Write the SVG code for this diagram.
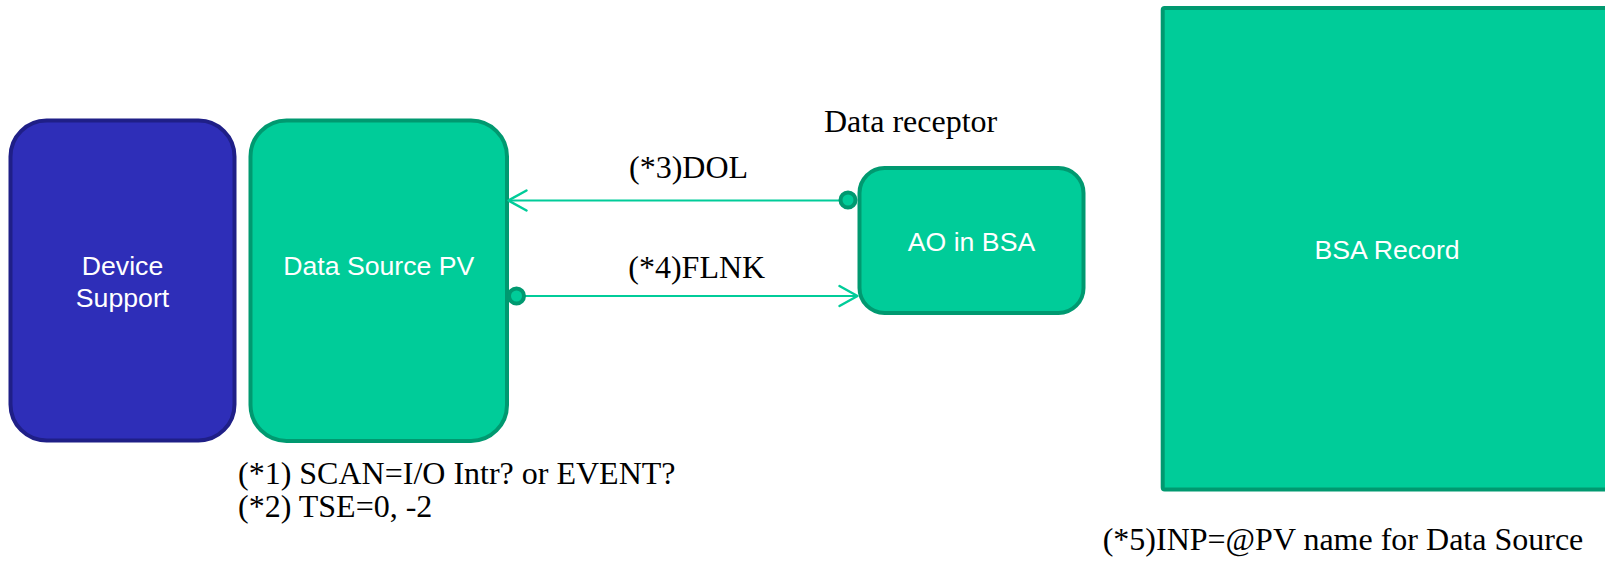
<svg xmlns="http://www.w3.org/2000/svg" width="1605" height="566" viewBox="0 0 1605 566">
  <style>
    .blue { fill: #2E2EB8; stroke: #1F1F87; stroke-width: 4; }
    .green { fill: #00CC99; stroke: #009970; stroke-width: 4; }
    .label { font-family: "Liberation Sans", Arial, sans-serif; font-size: 26.67px; fill: #FFFFFF; text-anchor: middle; }
    .note { font-family: "Liberation Serif", "Times New Roman", serif; font-size: 32px; fill: #000000; }
    .link { stroke: #00CC99; stroke-width: 2; fill: none; }
    .port { fill: #00CC99; stroke: #009970; stroke-width: 4; }
  </style>
  <defs>
    <marker id="open-arrow" markerUnits="userSpaceOnUse" markerWidth="24" markerHeight="26" refX="20" refY="12" orient="auto" overflow="visible">
      <path d="M2,2 L20,12 L2,22" fill="none" stroke="#00CC99" stroke-width="2.5" stroke-linecap="round" stroke-linejoin="round"/>
    </marker>
  </defs>

  <rect width="1605" height="566" fill="#FFFFFF"/>

  <!-- record blocks -->
  <g id="device-support">
    <rect class="blue" x="10.5" y="120.5" width="224" height="320" rx="36" ry="36"/>
    <text class="label" x="122.5" y="275">Device</text>
    <text class="label" x="122.5" y="307">Support</text>
  </g>

  <g id="data-source-pv">
    <rect class="green" x="250.5" y="120.5" width="256.5" height="320.5" rx="36" ry="36"/>
    <text class="label" x="378.75" y="275">Data Source PV</text>
  </g>

  <g id="ao-in-bsa">
    <rect class="green" x="859.5" y="168" width="224" height="145" rx="25" ry="25"/>
    <text class="label" x="971.5" y="250.5">AO in BSA</text>
  </g>

  <g id="bsa-record">
    <rect class="green" x="1162.7" y="8" width="448" height="481.5" rx="2" ry="2"/>
    <text class="label" x="1387" y="259.3">BSA Record</text>
  </g>

  <!-- links between records -->
  <g id="connectors">
    <g id="dol-link">
      <line class="link" x1="848" y1="200.5" x2="508.5" y2="200.5" marker-end="url(#open-arrow)"/>
      <circle class="port" cx="848" cy="200" r="7.5"/>
    </g>
    <g id="flnk-link">
      <line class="link" x1="517" y1="296" x2="857.5" y2="296" marker-end="url(#open-arrow)"/>
      <circle class="port" cx="516.5" cy="296" r="7.5"/>
    </g>
  </g>

  <!-- annotations -->
  <g id="notes">
    <text class="note" x="824" y="132.3">Data receptor</text>
    <text class="note" x="629" y="178.3">(*3)DOL</text>
    <text class="note" x="628.3" y="278.3">(*4)FLNK</text>
    <text class="note" x="238" y="484">(*1) SCAN=I/O Intr? or EVENT?</text>
    <text class="note" x="238" y="517">(*2) TSE=0, -2</text>
    <text class="note" x="1102.7" y="550">(*5)INP=@PV name for Data Source</text>
  </g>
</svg>
